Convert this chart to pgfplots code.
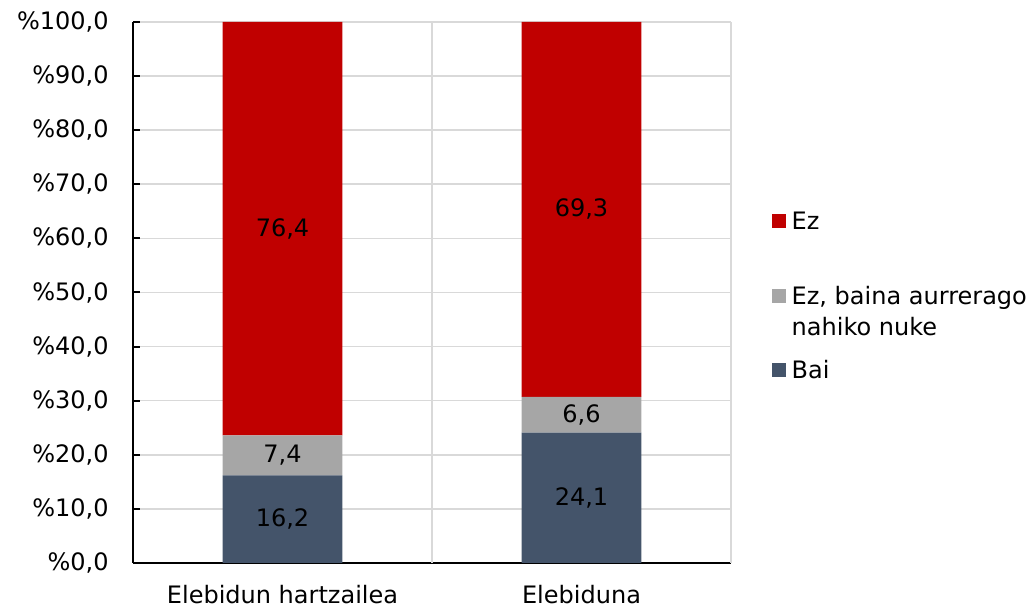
\documentclass[border=0pt]{standalone}
\usepackage{pgfplots}
\pgfplotsset{compat=1.18}
\usepackage{fontspec}
\setmainfont{DejaVu Sans}
\usetikzlibrary{calc}
\definecolor{cEz}{HTML}{C00000}
\definecolor{cGray}{HTML}{A6A6A6}
\definecolor{cBai}{HTML}{44546A}
\definecolor{cGrid}{HTML}{D9D9D9}
\newcommand\lgstrut[1]{\vrule width 0pt height 9.5pt depth #1\relax}
\begin{document}
\fontsize{12}{14.4}\selectfont
\begin{tikzpicture}
\begin{axis}[
  name=ax,
  scale only axis,
  width=299pt, height=270.5pt,
  ybar stacked,
  bar width=0.4,
  xmin=-0.5, xmax=1.5,
  ymin=0, ymax=100,
  xtick={0,1},
  xticklabels={Elebidun hartzailea, Elebiduna},
  extra x ticks={0.5,1.5},
  extra x tick labels={},
  extra x tick style={grid=major, major grid style={cGrid, line width=0.8pt}, major tick length=4pt, tick style={black, line width=1pt}},
  ytick={0,10,...,100},
  yticklabel={\%\pgfmathprintnumber[fixed, fixed zerofill, precision=1, use comma]{\tick}},
  /pgf/number format/assume math mode=true,
  ymajorgrids,
  major grid style={cGrid, line width=0.8pt},
  axis x line*=bottom,
  axis y line*=left,
  axis line style={black, line width=1pt, -},
  x tick style={draw=none},
  y tick style={black, line width=1pt},
  major tick length=3.5pt,
  tick align=inside,
  xticklabel style={yshift=-7pt},
  yticklabel style={xshift=-8pt},
  nodes near coords={\pgfmathprintnumber[fixed, fixed zerofill, precision=1, use comma]{\pgfplotspointmeta}},
  every node near coord/.append style={black},
  legend image code/.code={\fill[#1, draw=none] (0pt,0.7pt) rectangle (6.85pt,7.55pt);},
  legend style={draw=none, fill=none, inner sep=0pt, outer sep=0pt,
    at={(axis description cs:1.0686,0.6519)}, anchor=north west,
    row sep=3pt, column sep=0pt,
    nodes={inner ysep=0pt, inner xsep=3pt, text height=, text depth=},
    cells={anchor=base west}},
  clip=false,
]
\addlegendimage{fill=cEz}
\addlegendentry{\lgstrut{25pt}Ez}
\addlegendimage{fill=cGray}
\addlegendentry{\lgstrut{3pt}Ez, baina aurrerago}
\addlegendimage{empty legend}
\addlegendentry{\lgstrut{9pt}nahiko nuke}
\addlegendimage{fill=cBai}
\addlegendentry{\lgstrut{3pt}Bai}
\addplot[fill=cBai, draw=none] coordinates {(0,16.2) (1,24.1)};
\addplot[fill=cGray, draw=none] coordinates {(0,7.4) (1,6.6)};
\addplot[fill=cEz, draw=none] coordinates {(0,76.4) (1,69.3)};
\end{axis}
\path[use as bounding box] ($(ax.south west)+(-66.5pt,-21.5pt)$) rectangle ($(ax.north east)+(152pt,11pt)$);
\end{tikzpicture}
\end{document}
